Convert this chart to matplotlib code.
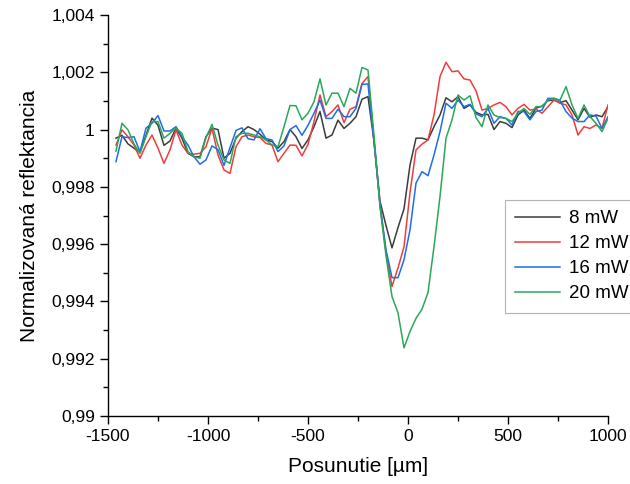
import numpy as np
import matplotlib
matplotlib.use("Agg")
import matplotlib.pyplot as plt
from matplotlib.ticker import MultipleLocator, FuncFormatter

plt.rcParams['font.family'] = ['Liberation Sans', 'DejaVu Sans']
plt.rcParams['axes.unicode_minus'] = False

# scan positions in um (step 30 um)
posunutie = np.arange(-1460, 1001, 30)

# as (R - 1) * 1e4
r_8mw = [-3.0, -2.0, -5.0, -6.5, -8.0, -2.0, 4.0, 1.5, -5.5, -4.0,
         0.5, -3.0, -8.3, -9.5, -9.5, -2.5, 0.5, 0.0, -10.0, -8.3,
         -3.0, -0.7, 1.0, 0.0, -1.6, -3.6, -4.2, -6.5, -4.2, 0.0,
         -2.5, -6.6, -3.6, 1.0, 6.3, -3.0, -1.9, 3.3, 0.4, 2.2,
         4.5, 10.6, 11.5, -4.0, -25.0, -33.5, -41.3, -34.2, -27.7, -12.4,
         -3.0, -3.0, -3.6, 1.0, 5.1, 11.1, 9.7, 11.5, 7.4, 8.6,
         6.0, 5.1, 5.3, 0.0, 2.8, 2.2, 0.7, 5.1, 6.8, 3.9,
         7.5, 8.2, 10.1, 10.3, 9.4, 10.1, 6.8, 3.4, 7.4, 4.3,
         5.1, 4.5, 8.0]
r_12mw = [-5.4, -0.1, -2.5, -5.4, -10.0, -5.4, -1.9, -6.5, -11.8, -7.1,
          -0.1, -5.4, -8.3, -8.6, -8.3, -6.0, 0.5, -8.9, -14.1, -15.3,
          -6.0, -2.5, -1.9, -2.5, -2.8, -4.8, -5.4, -11.2, -8.3, -5.4,
          -5.5, -9.2, -5.2, 2.8, 12.1, 4.5, 6.3, 8.6, 2.4, 7.1,
          8.0, 16.1, 18.5, -4.0, -26.0, -43.0, -54.8, -48.3, -40.9, -22.0,
          -7.1, -5.1, -3.6, 5.1, 18.5, 23.5, 20.2, 20.5, 17.7, 17.3,
          13.5, 6.8, 7.4, 8.6, 9.5, 8.0, 5.1, 7.4, 8.8, 6.8,
          7.2, 5.7, 8.0, 10.3, 9.2, 8.6, 5.1, -1.9, 1.0, 0.4,
          1.6, 0.4, 8.6]
r_16mw = [-11.2, -2.5, -2.8, -2.5, -7.7, 0.5, 2.2, 4.9, -0.5, -0.5,
          1.0, -2.5, -5.4, -9.5, -12.1, -10.6, -5.7, -7.0, -12.5, -6.3,
          -0.3, 0.6, -3.2, -3.6, 0.3, -3.2, -3.6, -7.7, -5.7, 0.0,
          1.4, -2.0, 1.5, 5.7, 10.3, 3.9, 3.9, 7.1, 4.5, 4.5,
          7.4, 15.8, 15.9, -4.0, -26.0, -42.0, -51.7, -51.7, -45.5, -35.0,
          -18.7, -14.7, -16.1, -8.9, -0.7, 9.2, 7.4, 10.3, 8.0, 8.8,
          5.5, 4.5, 7.4, 2.2, 4.5, 3.9, 1.6, 6.3, 6.3, 3.4,
          6.3, 6.8, 10.9, 10.9, 10.1, 6.3, 4.0, 2.8, 2.8, 5.1,
          4.7, 0.4, 4.5]
r_20mw = [-7.5, 2.2, -0.1, -5.0, -8.3, -2.5, 2.8, 2.8, -3.0, -1.3,
          0.5, -1.3, -7.7, -9.5, -10.0, -2.8, 1.8, -5.4, -10.6, -11.8,
          -2.5, -1.3, -1.3, -1.9, -2.5, -3.6, -5.4, -6.0, 1.0, 8.4,
          8.3, 3.4, 5.7, 9.7, 17.7, 8.6, 12.7, 12.7, 8.0, 14.4,
          12.7, 21.7, 20.8, -2.0, -27.0, -44.0, -58.3, -64.0, -76.2, -70.5,
          -65.9, -62.7, -56.9, -40.9, -23.4, -3.0, 3.4, 12.1, 10.3, 11.8,
          4.2, 1.0, 8.6, 5.1, 4.2, 3.9, 2.8, 5.7, 7.4, 5.3,
          8.0, 8.0, 10.3, 10.9, 10.3, 15.0, 8.6, 3.9, 8.6, 4.5,
          2.2, -0.7, 3.9]

labels = ['8 mW', '12 mW', '16 mW', '20 mW']
colors = ['#3c3c3c', '#f03c3c', '#1e6ee6', '#2aa85a']


def comma_fmt(v, pos):
    s = f"{v:.3f}".rstrip('0').rstrip('.')
    return s.replace('.', ',')


fig = plt.figure(figsize=(6.3, 4.84), dpi=100)
ax = fig.add_axes([0.1714, 0.1405, 0.7937, 0.8285])

for series, lab, col in zip([r_8mw, r_12mw, r_16mw, r_20mw], labels, colors):
    ax.plot(posunutie, 1 + np.array(series) * 1e-4, color=col, lw=1.1, label=lab)

ax.set_xlim(-1500, 1000)
ax.set_ylim(0.99, 1.004)
ax.xaxis.set_major_locator(MultipleLocator(500))
ax.xaxis.set_minor_locator(MultipleLocator(250))
ax.yaxis.set_major_locator(MultipleLocator(0.002))
ax.yaxis.set_minor_locator(MultipleLocator(0.001))
ax.yaxis.set_major_formatter(FuncFormatter(comma_fmt))

for s in ['top', 'right']:
    ax.spines[s].set_visible(False)
for s in ['left', 'bottom']:
    ax.spines[s].set_linewidth(1.0)
ax.tick_params(which='major', direction='out', length=6, width=1.0, labelsize=12.5)
ax.tick_params(which='minor', direction='out', length=3.5, width=1.0)

ax.set_xlabel('Posunutie [µm]', fontsize=15, labelpad=9)
ax.set_ylabel('Normalizovaná reflektancia', fontsize=15, labelpad=9)

leg = ax.legend(loc='upper left', bbox_to_anchor=(0.794, 0.539), borderaxespad=0,
                fontsize=13.5, fancybox=False, edgecolor='#a0a0a0',
                handlelength=2.4, handletextpad=0.45, borderpad=0.55, labelspacing=0.42)
leg.get_frame().set_linewidth(0.8)

fig.savefig('out.png', dpi=100)
